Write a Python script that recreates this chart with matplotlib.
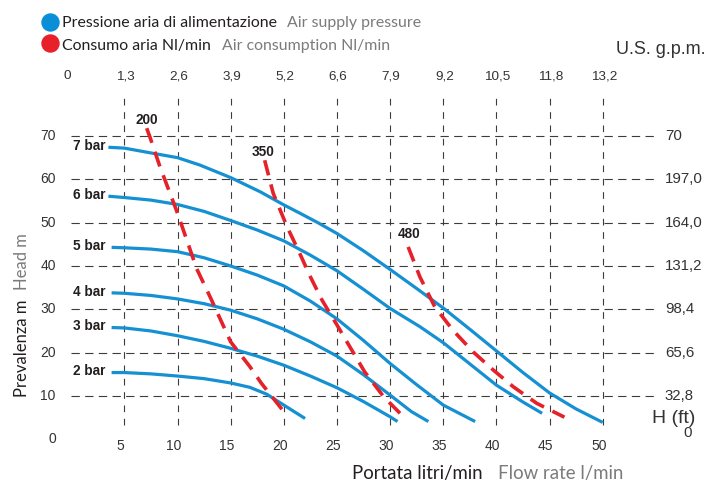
import matplotlib.pyplot as plt

# pump curves: flow rate (l/min) -> head (m) for each air supply pressure
flow_7bar = [3.5, 5, 7.7, 10, 12.1, 15, 17.8, 20, 21.5, 23.2, 25, 27.5, 30, 32.5, 35, 37.5, 40, 42.5, 45, 47.5, 50]
head_7bar = [67.4, 67.2, 66.0, 65.0, 63.3, 60.4, 57.1, 54.1, 52.2, 50.0, 47.5, 43.5, 39.2, 34.8, 30.3, 25.4, 20.4, 15.4, 10.7, 7.0, 3.9]
flow_6bar = [3.5, 5, 7.5, 10, 12.5, 15, 17.5, 20, 22.5, 25, 27.5, 30, 32.8, 35, 37.5, 40, 42.5, 44.3]
head_6bar = [56.1, 55.8, 55.2, 54.2, 52.6, 50.5, 48.3, 45.8, 42.5, 38.9, 34.6, 30.2, 26.0, 22.3, 17.4, 12.5, 8.6, 6.0]
flow_5bar = [3.8, 5, 7.5, 10, 12.5, 15, 17.5, 20, 22.5, 25, 27.5, 30, 32.5, 35, 36.5, 38]
head_5bar = [44.3, 44.2, 43.9, 43.3, 41.9, 40.0, 37.9, 35.4, 31.9, 27.8, 22.8, 17.5, 12.6, 7.9, 6.0, 4.1]
flow_4bar = [3.8, 5, 7.5, 10, 12.5, 15, 17.5, 20, 22.5, 25, 27.5, 30, 32, 33.6]
head_4bar = [33.8, 33.7, 33.2, 32.4, 31.3, 29.8, 27.8, 25.4, 22.5, 19.2, 14.9, 10.2, 6.4, 4.1]
flow_3bar = [3.8, 5, 7.5, 10, 12.5, 15, 17.5, 20, 22.5, 25, 27.5, 30, 30.7]
head_3bar = [25.8, 25.7, 25.0, 23.9, 22.6, 21.0, 19.2, 17.1, 14.6, 11.9, 8.7, 5.2, 4.1]
flow_2bar = [3.8, 5, 7.5, 10, 12.5, 15, 16.8, 18.4, 20, 22]
head_2bar = [15.4, 15.4, 15.1, 14.6, 14.0, 13.0, 12.0, 10.4, 7.9, 4.8]

pressure_labels = ["7 bar", "6 bar", "5 bar", "4 bar", "3 bar", "2 bar"]

# air consumption lines (Nl/min)
flow_200 = [7.1, 7.4, 8.35, 10, 11.8, 13.06, 15, 16.8, 17.9, 20, 20.3]
head_200 = [71.8, 69.8, 62.9, 52.2, 39.4, 32.9, 22.5, 16.8, 12.9, 6.4, 5.6]
flow_350 = [18.2, 19.0, 20.3, 21.5, 22.5, 23.6, 25.0, 26.2, 27.6, 29.4, 31.1]
head_350 = [64.4, 56.8, 49.1, 42.9, 37.5, 32.1, 26.4, 21.4, 15.6, 9.8, 5.6]
flow_480 = [31.7, 32.8, 34.2, 35.9, 37.8, 39.7, 41.6, 43.8, 46.4]
head_480 = [44.4, 37.5, 30.6, 25.2, 20.2, 16.0, 12.1, 8.3, 5.1]
consumption_labels = ["200", "350", "480"]

# axes ticks
flow_ticks = [5, 10, 15, 20, 25, 30, 35, 40, 45, 50]
gpm_ticks = [0, 5, 10, 15, 20, 25, 30, 35, 40, 45, 50]
gpm_labels = ["0", "1,3", "2,6", "3,9", "5,2", "6,6", "7,9", "9,2", "10,5", "11,8", "13,2"]
head_ticks = [0, 10, 20, 30, 40, 50, 60, 70]
ft_ticks = [10, 20, 30, 40, 50, 60, 70]
ft_labels = ["32,8", "65,6", "98,4", "131,2", "164,0", "197,0", "70"]

BLUE = "#1590d2"
RED = "#e52129"
DARK = "#231f20"
GREY = "#7b7b7b"
GRID = "#3c3c3c"

W, H = 706, 483
fig = plt.figure(figsize=(W / 100, H / 100), dpi=100)
ax = fig.add_axes([0, 0, 1, 1])
ax.axis("off")
# pixel layout: x=0 at 71.2 px, 10.63 px per l/min; y=0 at 439.3 px, 4.333 px per m
ax.set_xlim(-71.2 / 10.63, (W - 71.2) / 10.63)
ax.set_ylim((439.3 - H) / 4.333, 439.3 / 4.333)


def fpos(x, y):
    return x / W, 1 - y / H


# grid
ax.hlines(head_ticks[1:], 0, 55, colors=GRID, lw=0.8, linestyles=(0, (7.5, 4.8)))
ax.vlines(flow_ticks, 3.3, 80, colors=GRID, lw=0.8, linestyles=(0, (6, 6)))

# pump curves
curves = [(flow_7bar, head_7bar), (flow_6bar, head_6bar), (flow_5bar, head_5bar),
          (flow_4bar, head_4bar), (flow_3bar, head_3bar), (flow_2bar, head_2bar)]
for (fx, hy), lab in zip(curves, pressure_labels):
    ax.plot(fx, hy, color=BLUE, lw=2.3, solid_capstyle="butt",
            solid_joinstyle="round", zorder=3)
    ax.text(3.25, hy[0] + 0.3, lab, ha="right", va="center", fontsize=9.8,
            fontweight="bold", family="Liberation Sans", color=DARK)

# consumption lines
cons = [(flow_200, head_200), (flow_350, head_350), (flow_480, head_480)]
label_xy = [(7.13, 73.7), (18.0, 66.4), (31.8, 47.4)]
for (fx, hy), lab, (lx, ly) in zip(cons, consumption_labels, label_xy):
    ax.plot(fx, hy, color=RED, lw=2.6, ls=(0, (4.3, 2.6)), dash_capstyle="butt", zorder=4)
    ax.text(lx, ly, lab, ha="center", va="center", fontsize=9.8,
            fontweight="bold", family="Liberation Sans", color=DARK)

# tick labels
tick_kw = dict(family="Liberation Sans", color="#333333", va="center")
for v in head_ticks:
    ax.text(-1.45, v, str(v), ha="right", fontsize=10, **tick_kw)
for v in flow_ticks:
    ax.text(v - 0.35, -1.6, str(v), ha="center", fontsize=10, **tick_kw)
for v, lab in zip(gpm_ticks, gpm_labels):
    ax.text(v + (0.1 if v else -0.4), 83.8, lab, ha="center", fontsize=9.7, **tick_kw)
for v, lab in zip(ft_ticks, ft_labels):
    ax.text(55.85, v, lab, ha="left", fontsize=10.8, **tick_kw)
ax.text(58.0, 1.4, "0", ha="center", fontsize=10.8, **tick_kw)
ax.text(56.7, 4.9, "H (ft)", ha="center", fontsize=14, **tick_kw)
fig.text(*fpos(705, 49), "U.S. g.p.m.", ha="right", va="center", fontsize=13,
         family="Liberation Sans", color="#333333")

# legend
ax.scatter([-2.0], [96.4], s=150, color="#0a8ed8", zorder=5)
ax.scatter([-2.0], [91.4], s=150, color="#e8202a", zorder=5)
leg_kw = dict(fontsize=11.45, family="Lato", va="baseline")
fig.text(*fpos(62, 27.3), "Pressione aria di alimentazione", color=DARK, **leg_kw)
fig.text(*fpos(287, 27.3), "Air supply pressure", color=GREY, **leg_kw)
fig.text(*fpos(62, 50), "Consumo aria Nl/min", color=DARK, **leg_kw)
fig.text(*fpos(222, 50), "Air consumption Nl/min", color=GREY, **leg_kw)

# axis titles
xl_kw = dict(fontsize=13.4, family="Lato", va="baseline")
fig.text(*fpos(352, 479), "Portata litri/min", color=DARK, **xl_kw)
fig.text(*fpos(498, 479), "Flow rate l/min", color=GREY, **xl_kw)
yl_kw = dict(fontsize=12, family="Lato", va="baseline", rotation=90,
             rotation_mode="anchor", ha="left")
fig.text(*fpos(26.5, 397), "Prevalenza m", color=DARK, **yl_kw)
fig.text(*fpos(26.5, 290), "Head m", color=GREY, **yl_kw)

fig.savefig("out.png", dpi=100)
